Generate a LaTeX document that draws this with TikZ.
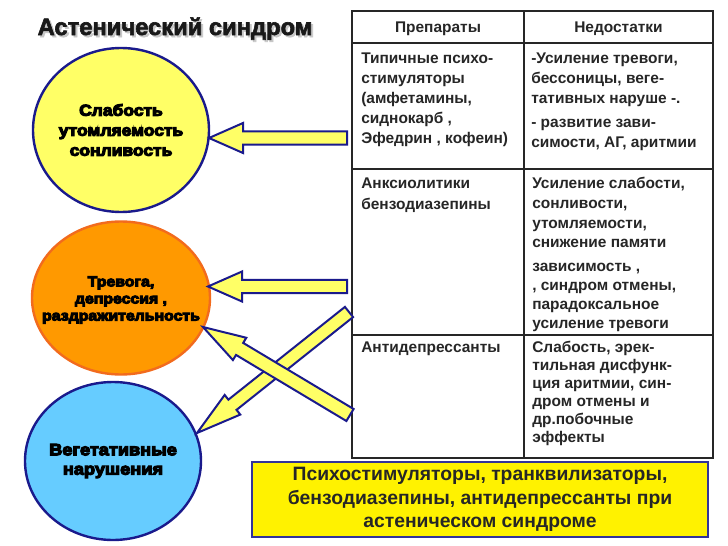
\documentclass[tikz,border=0pt]{standalone}
\usepackage{fontspec}
\setmainfont{Liberation Sans}
\newfontfamily\heavyfont{Liberation Sans}[BoldFeatures={FakeBold=7,FakeStretch=1.1}]
\newfontfamily\titlefont{Liberation Sans}[BoldFeatures={FakeBold=2.5}]
\usetikzlibrary{shapes.geometric,calc}
\definecolor{navy}{HTML}{1A1A8C}
\definecolor{circyellow}{HTML}{FFFF66}
\definecolor{circorange}{HTML}{FF9900}
\definecolor{orangeedge}{HTML}{F26B1D}
\definecolor{circblue}{HTML}{66CCFF}
\definecolor{boxedge}{HTML}{333399}
\definecolor{arrowfill}{HTML}{FFFF66}
\newcommand\fatarrow[6]{% #1 tail, #2 tip, #3 id, #4 head length, #5 head half, #6 shaft half
  \coordinate (#3h) at ($(#2)!#4!(#1)$);
  \draw[blockarrow] (#2) -- ($(#3h)!#5!-90:(#1)$) -- ($(#3h)!#6!-90:(#1)$)
    -- ($(#1)!#6!90:(#2)$) -- ($(#1)!#6!-90:(#2)$) -- ($(#3h)!#6!90:(#1)$)
    -- ($(#3h)!#5!90:(#1)$) -- cycle;}
\begin{document}
\begin{tikzpicture}[x=0.75pt,y=-0.75pt,
  blockarrow/.style={draw=navy,fill=arrowfill,line width=1.5pt,line join=miter},
  circ/.style={ellipse,draw,line width=1.8pt,inner sep=0pt},
  circtext/.style={inner sep=0pt,align=center},
  tabline/.style={draw=black!85,line width=1.5pt},
  cell/.style={anchor=base west,inner sep=0pt,font=\bfseries\fontsize{11.6}{14}\selectfont,text=black!85},
  head/.style={anchor=base,inner sep=0pt,font=\bfseries\fontsize{11.6}{14}\selectfont,text=black!85}]
\useasboundingbox (0,0) rectangle (728,546);
\fill[white] (0,0) rectangle (728,546);
% title with soft shadow
\node[anchor=base,inner sep=0pt,font=\titlefont\bfseries\fontsize{17.8}{20}\selectfont,text=black!22] (titleshadow) at (177,37) {Астенический синдром};
\node[anchor=base,inner sep=0pt,font=\titlefont\bfseries\fontsize{17.8}{20}\selectfont,text=black!90] (title) at (175,35) {Астенический синдром};
% circles
\node[circ,draw=navy,fill=circyellow,minimum width=132pt,minimum height=123pt] (c1) at (121,130) {};
\node[circtext,font=\heavyfont\bfseries\fontsize{11.9}{15}\selectfont] (t1) at (c1.center) {Слабость\\утомляемость\\сонливость};
\node[circ,draw=orangeedge,fill=circorange,minimum width=133.5pt,minimum height=114.75pt] (c2) at (121,298) {};
\node[circtext,font=\heavyfont\bfseries\fontsize{10.8}{12.8}\selectfont] (t2) at ([yshift=-1.5pt]c2.center) {Тревога,\\депрессия ,\\раздражительность};
\node[circ,draw=navy,fill=circblue,minimum width=132pt,minimum height=118.5pt] (c3) at (113,461) {};
\node[circtext,font=\heavyfont\bfseries\fontsize{12.4}{14.5}\selectfont] (t3) at (c3.center) {Вегетативные\\нарушения};
% table
\draw[tabline] (352,11) rectangle (713,458);
\draw[tabline] (524,11) -- (524,458);
\draw[tabline] (352,43) -- (713,43);
\draw[tabline] (352,169) -- (713,169);
\draw[tabline] (352,335) -- (713,335);
\node[head] (h1) at (438,32) {Препараты};
\node[head] (h2) at (618.5,32) {Недостатки};
% row 1
\node[cell] (r1a1) at (361,63) {Типичные психо-};
\node[cell] (r1a2) at (361,83) {стимуляторы};
\node[cell] (r1a3) at (361,103) {(амфетамины,};
\node[cell] (r1a4) at (361,123) {сиднокарб ,};
\node[cell] (r1a5) at (361,143) {Эфедрин , кофеин)};
\node[cell] (r1b1) at (531,63) {-Усиление тревоги,};
\node[cell] (r1b2) at (531,83) {бессоницы, веге-};
\node[cell] (r1b3) at (531,103) {тативных наруше -.};
\node[cell] (r1b4) at (531,127) {- развитие зави-};
\node[cell] (r1b5) at (531,147) {симости, АГ, аритмии};
% row 2
\node[cell] (r2a1) at (361,188) {Анксиолитики};
\node[cell] (r2a2) at (361,209) {бензодиазепины};
\node[cell] (r2b1) at (532,188) {Усиление слабости,};
\node[cell] (r2b2) at (532,208) {сонливости,};
\node[cell] (r2b3) at (532,228) {утомляемости,};
\node[cell] (r2b4) at (532,247) {снижение памяти};
\node[cell] (r2b5) at (532,271) {зависимость ,};
\node[cell] (r2b6) at (532,290) {, синдром отмены,};
\node[cell] (r2b7) at (532,309) {парадоксальное};
\node[cell] (r2b8) at (532,328) {усиление тревоги};
% row 3
\node[cell] (r3a1) at (361,352) {Антидепрессанты};
\node[cell] (r3b1) at (532,352) {Слабость, эрек-};
\node[cell] (r3b2) at (532,370) {тильная дисфунк-};
\node[cell] (r3b3) at (532,388) {ция аритмии, син-};
\node[cell] (r3b4) at (532,406) {дром отмены и};
\node[cell] (r3b5) at (532,424) {др.побочные};
\node[cell] (r3b6) at (532,442) {эффекты};
% bottom box
\node[draw=boxedge,fill=yellow,line width=1.8pt,minimum width=342pt,minimum height=56.25pt,
  inner sep=0pt,align=center,font=\bfseries\fontsize{14.5}{17.5}\selectfont,text=black!85] (box) at (480,499.5)
  {Психостимуляторы, транквилизаторы,\\бензодиазепины, антидепрессанты при\\астеническом синдроме};
% arrows
\coordinate (a1tail) at (347,138);
\coordinate (a1tip) at (209,138);
\coordinate (a2tail) at (347,286.5);
\coordinate (a2tip) at (208,286.5);
\coordinate (a3tail) at (350,415);
\coordinate (a3tip) at (203,327);
\coordinate (a4tail) at (349,312);
\coordinate (a4tip) at (197,433);
\fatarrow{a1tail}{a1tip}{a1}{25.5pt}{11.25pt}{4.9pt}
\fatarrow{a2tail}{a2tip}{a2}{25.5pt}{11.25pt}{4.9pt}
\fatarrow{a4tail}{a4tip}{a4}{34pt}{9.4pt}{4.9pt}
\fatarrow{a3tail}{a3tip}{a3}{32pt}{9.75pt}{5.25pt}
\end{tikzpicture}
\end{document}
